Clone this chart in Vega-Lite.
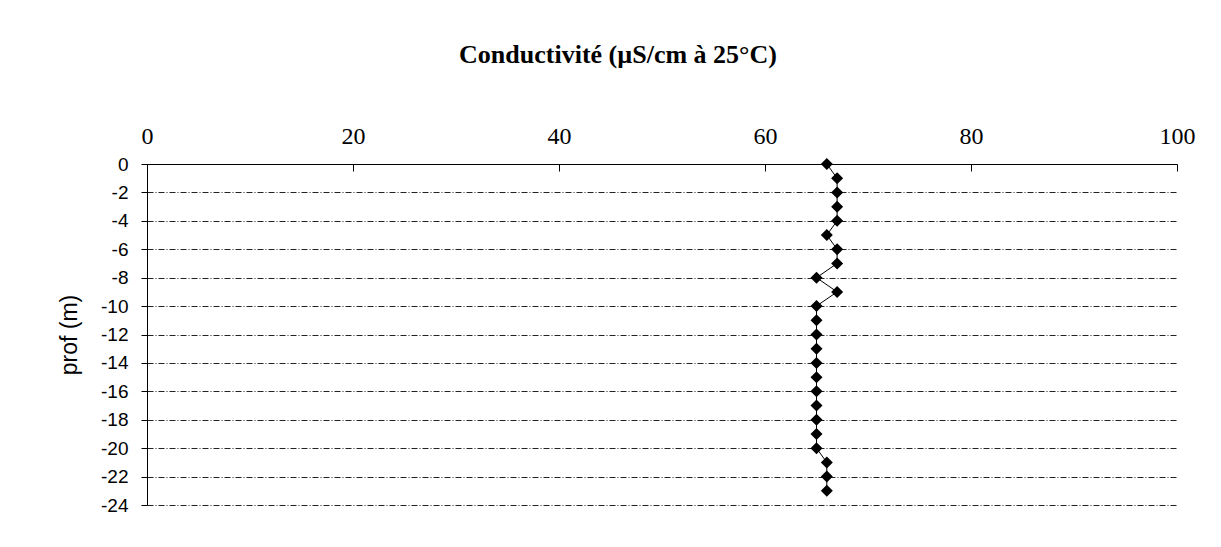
{
  "$schema": "https://vega.github.io/schema/vega-lite/v6.json",
  "width": 1030,
  "height": 341,
  "autosize": {"type": "none"},
  "padding": {"left": 147, "top": 164, "right": 44, "bottom": 42},
  "background": "white",
  "title": {
    "text": "Conductivité (µS/cm à 25°C)",
    "font": "Liberation Serif",
    "fontSize": 26,
    "fontWeight": "bold",
    "color": "black",
    "anchor": "middle",
    "frame": "group",
    "dx": -44,
    "offset": 56
  },
  "data": {
    "values": [
      {"prof": 0, "cond": 66},
      {"prof": -1, "cond": 67},
      {"prof": -2, "cond": 67},
      {"prof": -3, "cond": 67},
      {"prof": -4, "cond": 67},
      {"prof": -5, "cond": 66},
      {"prof": -6, "cond": 67},
      {"prof": -7, "cond": 67},
      {"prof": -8, "cond": 65},
      {"prof": -9, "cond": 67},
      {"prof": -10, "cond": 65},
      {"prof": -11, "cond": 65},
      {"prof": -12, "cond": 65},
      {"prof": -13, "cond": 65},
      {"prof": -14, "cond": 65},
      {"prof": -15, "cond": 65},
      {"prof": -16, "cond": 65},
      {"prof": -17, "cond": 65},
      {"prof": -18, "cond": 65},
      {"prof": -19, "cond": 65},
      {"prof": -20, "cond": 65},
      {"prof": -21, "cond": 66},
      {"prof": -22, "cond": 66},
      {"prof": -23, "cond": 66}
    ]
  },
  "config": {
    "view": {"stroke": null},
    "axis": {"domainColor": "black", "tickColor": "black", "labelColor": "black", "titleColor": "black"}
  },
  "encoding": {
    "x": {
      "field": "cond",
      "type": "quantitative",
      "scale": {"domain": [0, 100], "nice": false, "zero": false},
      "axis": {
        "orient": "top",
        "values": [0, 20, 40, 60, 80, 100],
        "title": null,
        "grid": false,
        "tickSize": -7,
        "labelPadding": 23,
        "labelFont": "Liberation Serif",
        "labelFontSize": 24,
        "labelFontWeight": "normal",
        "domainWidth": 1,
        "labelFlush": false,
        "labelOverlap": false
      }
    },
    "y": {
      "field": "prof",
      "type": "quantitative",
      "scale": {"domain": [-24, 0], "nice": false, "zero": false},
      "axis": {
        "values": [0, -2, -4, -6, -8, -10, -12, -14, -16, -18, -20, -22, -24],
        "labelExpr": "datum.value + ''",
        "title": "prof (m)",
        "titleFont": "Liberation Sans",
        "titleFontSize": 23,
        "titleFontWeight": "normal",
        "titlePadding": 19,
        "tickSize": 6,
        "labelPadding": 13,
        "labelFont": "Liberation Sans",
        "labelFontSize": 19,
        "labelFlush": false,
        "labelOverlap": false,
        "grid": true,
        "gridColor": "#222222",
        "gridDash": [6, 2, 1, 2],
        "gridWidth": 1
      }
    },
    "order": {"field": "prof", "sort": "descending"}
  },
  "layer": [
    {"mark": {"type": "line", "color": "black", "strokeWidth": 1}},
    {"mark": {"type": "point", "shape": "diamond", "filled": true, "color": "black", "size": 144, "opacity": 1}}
  ]
}
